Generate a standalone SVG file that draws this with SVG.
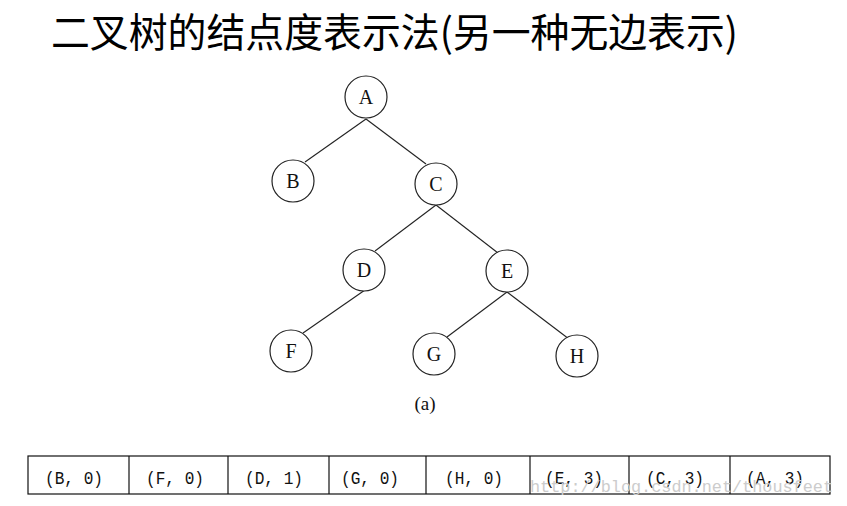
<svg xmlns="http://www.w3.org/2000/svg" width="847" height="506" viewBox="0 0 847 506">
<style>
.node circle{fill:#fff;stroke:#222;stroke-width:1.2}
.node text{font-family:"Liberation Serif",serif;font-size:20px;text-anchor:middle;fill:#111}
#edges line{stroke:#222;stroke-width:1.1}
.cell rect{fill:none;stroke:#111;stroke-width:1.2}
.cell line{stroke:#111;stroke-width:1.2}
.cell text{font-family:"Liberation Mono","DejaVu Sans Mono",monospace;font-size:19px;text-anchor:middle;fill:#111}
</style>
<rect width="847" height="506" fill="#fff"/>
<text x="51" y="47" font-family="'Noto Sans CJK SC',sans-serif" font-size="40" font-weight="400" textLength="687" lengthAdjust="spacingAndGlyphs" fill="#000">二叉树的结点度表示法(另一种无边表示)</text>
<g id="edges">
<line x1="366" y1="119" x2="305" y2="162"/>
<line x1="366" y1="119" x2="426" y2="164"/>
<line x1="436" y1="205" x2="375" y2="251"/>
<line x1="436" y1="205" x2="498" y2="253"/>
<line x1="365" y1="290" x2="303" y2="333"/>
<line x1="507" y1="292" x2="447" y2="337"/>
<line x1="507" y1="292" x2="569" y2="339"/>
</g>
<g id="A" class="node"><circle cx="366" cy="97" r="21"/><text x="366" y="104">A</text></g>
<g id="B" class="node"><circle cx="293" cy="181" r="21"/><text x="293" y="188">B</text></g>
<g id="C" class="node"><circle cx="436" cy="184" r="21"/><text x="436" y="191">C</text></g>
<g id="D" class="node"><circle cx="364" cy="270" r="21"/><text x="364" y="277">D</text></g>
<g id="E" class="node"><circle cx="507" cy="271" r="21"/><text x="507" y="278">E</text></g>
<g id="F" class="node"><circle cx="291" cy="351" r="21"/><text x="291" y="358">F</text></g>
<g id="G" class="node"><circle cx="434" cy="354" r="21"/><text x="434" y="361">G</text></g>
<g id="H" class="node"><circle cx="577" cy="356" r="21"/><text x="577" y="363">H</text></g>
<text x="425" y="410" font-family="'Liberation Serif',serif" font-size="19" text-anchor="middle" fill="#111">(a)</text>
<g id="table" class="cell">
<rect x="28" y="456" width="802" height="38"/>
<line x1="129" y1="456" x2="129" y2="494"/>
<line x1="228" y1="456" x2="228" y2="494"/>
<line x1="329" y1="456" x2="329" y2="494"/>
<line x1="426" y1="456" x2="426" y2="494"/>
<line x1="530" y1="456" x2="530" y2="494"/>
<line x1="629" y1="456" x2="629" y2="494"/>
<line x1="730" y1="456" x2="730" y2="494"/>
<text x="74" y="484" textLength="58" lengthAdjust="spacingAndGlyphs">(B, 0)</text>
<text x="175" y="484" textLength="58" lengthAdjust="spacingAndGlyphs">(F, 0)</text>
<text x="274" y="484" textLength="58" lengthAdjust="spacingAndGlyphs">(D, 1)</text>
<text x="370" y="484" textLength="58" lengthAdjust="spacingAndGlyphs">(G, 0)</text>
<text x="474" y="484" textLength="58" lengthAdjust="spacingAndGlyphs">(H, 0)</text>
<text x="574" y="484" textLength="58" lengthAdjust="spacingAndGlyphs">(E, 3)</text>
<text x="675" y="484" textLength="58" lengthAdjust="spacingAndGlyphs">(C, 3)</text>
<text x="775" y="484" textLength="58" lengthAdjust="spacingAndGlyphs">(A, 3)</text>
</g>
<text x="530" y="492" font-family="'Liberation Mono',monospace" font-size="17" fill="#cccccc" textLength="303" lengthAdjust="spacingAndGlyphs">http://blog.csdn.net/thousfeet</text>
</svg>
